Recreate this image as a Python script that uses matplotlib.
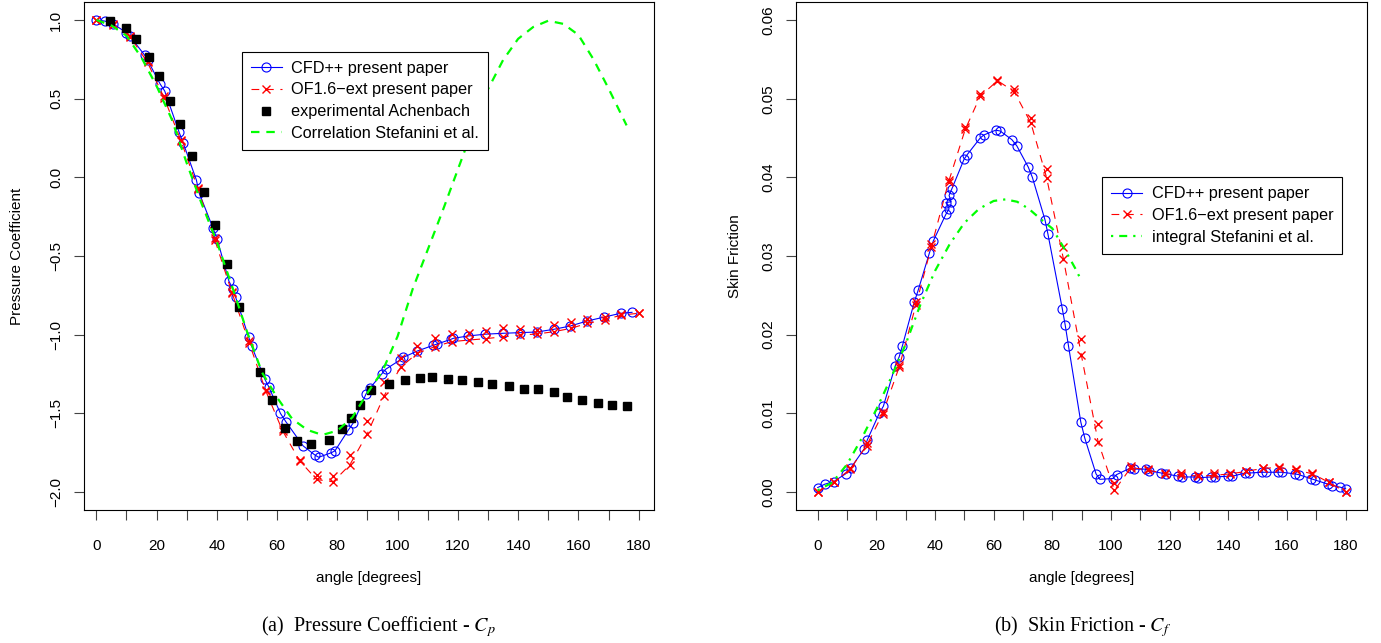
import matplotlib
matplotlib.use('Agg')
import matplotlib.pyplot as plt

plt.rcParams['font.family'] = ['Liberation Sans', 'DejaVu Sans']
plt.rcParams['mathtext.fontset'] = 'stix'

# ---- pressure coefficient data (left panel)
cfd_cp_x = [0, 2.8, 5.6, 9.9, 11.2, 16.0, 17.0, 21.2, 22.7, 27.5, 28.8, 33.2, 34.1, 38.7, 40.1,
            44.0, 45.4, 46.2, 50.6, 51.5, 55.9, 57.2, 61.1, 62.9, 68.6, 72.5, 73.8, 78.0, 79.2,
            83.6, 85.3, 89.5, 90.8, 94.7, 96.0, 100.8, 101.9, 106.5, 111.9, 113.0, 117.6, 118.5,
            123.5, 129.0, 135.1, 140.7, 146.2, 151.8, 157.3, 162.9, 168.4, 174.0, 177.8]
cfd_cp_y = [1.0, 0.993, 0.975, 0.92, 0.895, 0.777, 0.745, 0.592, 0.548, 0.285, 0.22, -0.017, -0.098,
            -0.322, -0.392, -0.66, -0.712, -0.76, -1.017, -1.07, -1.282, -1.33, -1.5, -1.553, -1.706,
            -1.764, -1.779, -1.75, -1.738, -1.607, -1.56, -1.377, -1.34, -1.25, -1.22, -1.161, -1.144,
            -1.104, -1.067, -1.06, -1.03, -1.023, -1.008, -0.997, -0.991, -0.987, -0.983, -0.966,
            -0.945, -0.913, -0.889, -0.864, -0.858]

of_cp_x = [0, 5.5, 11.2, 17.0, 22.5, 28.1, 33.8, 39.3, 45.1, 50.7, 56.2, 61.8, 67.5, 73.1, 78.6,
           84.1, 89.9, 95.5, 101.0, 106.5, 112.4, 118.0, 123.7, 129.4, 135.1, 140.7, 146.2, 151.8,
           157.5, 162.9, 168.7, 174.3, 180.0]
of_cp_a = [1.0, 0.975, 0.90, 0.74, 0.515, 0.24, -0.068, -0.388, -0.728, -1.04, -1.35, -1.60, -1.796,
           -1.893, -1.895, -1.764, -1.546, -1.298, -1.15, -1.072, -1.023, -0.996, -0.987, -0.974,
           -0.96, -0.966, -0.97, -0.938, -0.917, -0.902, -0.885, -0.868, -0.864]
of_cp_b = [1.0, 0.970, 0.893, 0.73, 0.505, 0.232, -0.076, -0.396, -0.738, -1.05, -1.356, -1.61, -1.802,
           -1.92, -1.935, -1.828, -1.631, -1.389, -1.207, -1.118, -1.076, -1.044, -1.034, -1.025,
           -1.013, -1.002, -0.996, -0.981, -0.96, -0.928, -0.906, -0.875, -0.864]

exp_x = [4.4, 9.7, 13.1, 17.4, 20.8, 24.4, 27.6, 31.6, 35.6, 39.3, 43.4, 47.5, 54.3, 58.2, 62.5,
         66.7, 71.4, 77.2, 81.4, 84.5, 87.6, 91.0, 97.1, 102.4, 107.4, 111.4, 116.6, 121.4, 126.6,
         131.4, 136.9, 141.9, 146.6, 151.8, 156.2, 161.2, 166.5, 171.2, 176.2]
exp_y = [0.995, 0.951, 0.88, 0.766, 0.644, 0.487, 0.339, 0.136, -0.094, -0.303, -0.551, -0.822,
         -1.237, -1.415, -1.593, -1.674, -1.692, -1.667, -1.599, -1.529, -1.447, -1.351, -1.313,
         -1.288, -1.275, -1.267, -1.28, -1.288, -1.3, -1.313, -1.324, -1.345, -1.345, -1.364,
         -1.394, -1.415, -1.432, -1.444, -1.451]

corr_x = [0, 5, 10, 15, 20, 25, 30, 35, 40, 45, 50, 55, 60, 65, 70, 75, 80, 85, 90, 95, 100, 105,
          110, 115, 120, 125, 130, 135, 140, 145, 150, 155, 160, 165, 170, 176]
corr_y = [1.0, 0.965, 0.90, 0.76, 0.58, 0.37, 0.09, -0.17, -0.41, -0.69, -0.98, -1.24, -1.40, -1.535,
          -1.605, -1.637, -1.61, -1.525, -1.37, -1.23, -1.01, -0.71, -0.46, -0.21, 0.05, 0.31, 0.56,
          0.745, 0.88, 0.955, 0.995, 0.975, 0.905, 0.75, 0.565, 0.33]

# ---- skin friction data (right panel)
cfd_cf_x = [0, 2.4, 5.4, 9.5, 11.2, 15.9, 16.9, 21.0, 22.4, 26.4, 27.8, 28.9, 32.9, 34.3, 38.1, 39.4,
            43.7, 44.8, 43.7, 45.5, 44.8, 45.7, 49.9, 51.0, 55.4, 56.7, 60.7, 62.2, 66.2, 67.9, 71.8,
            73.2, 77.5, 78.5, 83.4, 84.4, 85.5, 89.7, 91.1, 94.9, 96.2, 100.7, 101.9, 106.4, 107.7,
            111.8, 112.9, 117.2, 118.6, 122.9, 124.3, 128.8, 129.8, 134.2, 135.5, 140.0, 141.4, 145.7,
            147.1, 151.5, 152.7, 156.8, 158.2, 162.6, 164.0, 168.1, 169.7, 173.9, 175.5, 178.2, 180.0]
cfd_cf_y = [0.00056, 0.00098, 0.0013, 0.0023, 0.0030, 0.0055, 0.0066, 0.0100, 0.0109, 0.0160, 0.0172,
            0.0186, 0.0241, 0.0257, 0.0304, 0.0319, 0.0353, 0.0360, 0.0368, 0.0369, 0.0377, 0.0385,
            0.0423, 0.0429, 0.0450, 0.0454, 0.0460, 0.0459, 0.0448, 0.0440, 0.0413, 0.0400, 0.0346,
            0.0328, 0.0233, 0.0212, 0.0186, 0.0089, 0.0068, 0.0023, 0.0016, 0.0017, 0.0022, 0.0030,
            0.0029, 0.0029, 0.0027, 0.0024, 0.0023, 0.0020, 0.0019, 0.0019, 0.0018, 0.0019, 0.0019,
            0.0020, 0.0020, 0.0024, 0.0024, 0.0025, 0.0025, 0.0025, 0.0025, 0.0023, 0.0022, 0.0017,
            0.0015, 0.0010, 0.0008, 0.0006, 0.0004]

of_cf_x = [0, 5.4, 11.1, 16.7, 22.1, 27.8, 33.5, 38.7, 44.6, 50.3, 55.4, 61.3, 67.0, 72.7, 78.1, 83.8,
           89.9, 95.6, 101.2, 106.8, 112.5, 118.3, 124.0, 129.7, 135.1, 140.7, 146.0, 151.8, 157.2,
           163.0, 168.7, 174.4, 180.0]
of_cf_a = [0.0000, 0.0013, 0.0031, 0.0062, 0.0102, 0.0162, 0.0241, 0.0315, 0.0397, 0.0464, 0.0506,
           0.0524, 0.0512, 0.0475, 0.0410, 0.0312, 0.0195, 0.0086, 0.0011, 0.0033, 0.0029, 0.0024,
           0.0024, 0.0022, 0.0024, 0.0024, 0.0027, 0.0031, 0.0032, 0.0029, 0.0024, 0.0013, 0.0000]
of_cf_b = [0.0000, 0.0012, 0.0029, 0.0059, 0.0099, 0.0159, 0.0238, 0.0311, 0.0394, 0.0461, 0.0503,
           0.0523, 0.0509, 0.0469, 0.0399, 0.0296, 0.0174, 0.0064, 0.0002, 0.0031, 0.0028, 0.0023,
           0.0022, 0.0020, 0.0021, 0.0023, 0.0026, 0.0030, 0.0031, 0.0028, 0.0023, 0.0012, 0.0000]

integ_x = [0, 5, 10, 15, 20, 25, 30, 35, 40, 45, 50, 55, 60, 64, 68, 72, 76, 80, 84, 88, 90]
integ_y = [0.0002, 0.0012, 0.0035, 0.0068, 0.0105, 0.0145, 0.0188, 0.0238, 0.0281, 0.0315, 0.0342,
           0.0360, 0.0370, 0.0372, 0.0369, 0.0360, 0.0347, 0.0335, 0.0310, 0.0283, 0.0268]

angle_ticks = list(range(0, 181, 10))
angle_labels = [str(a) if a % 20 == 0 else '' for a in angle_ticks]

W, H = 1381, 643
fig = plt.figure(figsize=(W / 100, H / 100), dpi=100)
ax1 = fig.add_axes([84 / W, 1 - 510 / H, 570 / W, 508 / H])
ax2 = fig.add_axes([796 / W, 1 - 510 / H, 571 / W, 508 / H])

fs = 11
lfs = 11.7


def style_axis(ax):
    ax.set_xticks(angle_ticks)
    ax.set_xticklabels(angle_labels)
    ax.tick_params(direction='out', length=7, width=0.8, color='#444444', labelsize=fs, pad=14)
    ax.tick_params(axis='y', pad=8)
    for lab in ax.get_yticklabels():
        lab.set_rotation(90)
        lab.set_va('center')
    for sp in ax.spines.values():
        sp.set_linewidth(0.8)
    ax.set_xlabel('angle [degrees]', fontsize=fs, labelpad=13)


def add_legend(ax, x0, y0):
    leg = ax.legend(loc='upper left', bbox_to_anchor=(x0, y0), borderaxespad=0, fancybox=False,
                    edgecolor='black', framealpha=1, fontsize=lfs, handlelength=1.9,
                    handletextpad=0.6, labelspacing=0.42, borderpad=0.55)
    leg.get_frame().set_linewidth(0.8)


# left panel
ax1.plot(cfd_cp_x, cfd_cp_y, '-', color='blue', lw=0.8, marker='o', ms=6.5, mfc='none', mew=0.8,
         label='CFD++ present paper')
ax1.plot(of_cp_x, of_cp_b, color='red', lw=0.8, dashes=(7, 6), marker='x', ms=6, mew=1,
         label='OF1.6\u2212ext present paper')
ax1.plot(of_cp_x, of_cp_a, 'x', color='red', ms=6, mew=1)
ax1.plot(exp_x, exp_y, 's', color='black', ms=6, label='experimental Achenbach')
ax1.plot(corr_x, corr_y, color='#00ff00', lw=1.6, dashes=(3.8, 3.1), label='Correlation Stefanini et al.')
ax1.set_xlim(-4.1, 185.1)
ax1.set_ylim(-2.114, 1.114)
ax1.set_yticks([-2.0, -1.5, -1.0, -0.5, 0.0, 0.5, 1.0])
ax1.set_yticklabels(['\u22122.0', '\u22121.5', '\u22121.0', '\u22120.5', '0.0', '0.5', '1.0'])
style_axis(ax1)
ax1.set_ylabel('Pressure Coefficient', fontsize=fs, labelpad=18)
add_legend(ax1, (241.7 - 84) / 570, (510 - 51.7) / 508)

# right panel
ax2.plot(cfd_cf_x, cfd_cf_y, '-', color='blue', lw=0.8, marker='o', ms=6.5, mfc='none', mew=0.8,
         label='CFD++ present paper')
ax2.plot(of_cf_x, of_cf_b, color='red', lw=0.8, dashes=(7, 6), marker='x', ms=6, mew=1,
         label='OF1.6\u2212ext present paper')
ax2.plot(of_cf_x, of_cf_a, 'x', color='red', ms=6, mew=1)
ax2.plot(integ_x, integ_y, color='#00ff00', lw=1.6, dashes=(1, 2.7, 3.6, 2.7), label='integral Stefanini et al.')
ax2.set_xlim(-7.4, 187.3)
ax2.set_ylim(-0.0023, 0.0623)
ax2.set_yticks([0.0, 0.01, 0.02, 0.03, 0.04, 0.05, 0.06])
ax2.set_yticklabels(['0.00', '0.01', '0.02', '0.03', '0.04', '0.05', '0.06'])
style_axis(ax2)
ax2.set_ylabel('Skin Friction', fontsize=fs, labelpad=14)
add_legend(ax2, (1102.3 - 796) / 571, (510 - 177.3) / 508)

fig.text(378 / W, 1 - 627 / H, r'(a)  Pressure Coefficient - $C_p$', ha='center', va='center',
         family='Liberation Serif', fontsize=14.5)
fig.text(1083 / W, 1 - 627 / H, r'(b)  Skin Friction - $C_f$', ha='center', va='center',
         family='Liberation Serif', fontsize=14.5)

fig.savefig('out.png', dpi=100)
